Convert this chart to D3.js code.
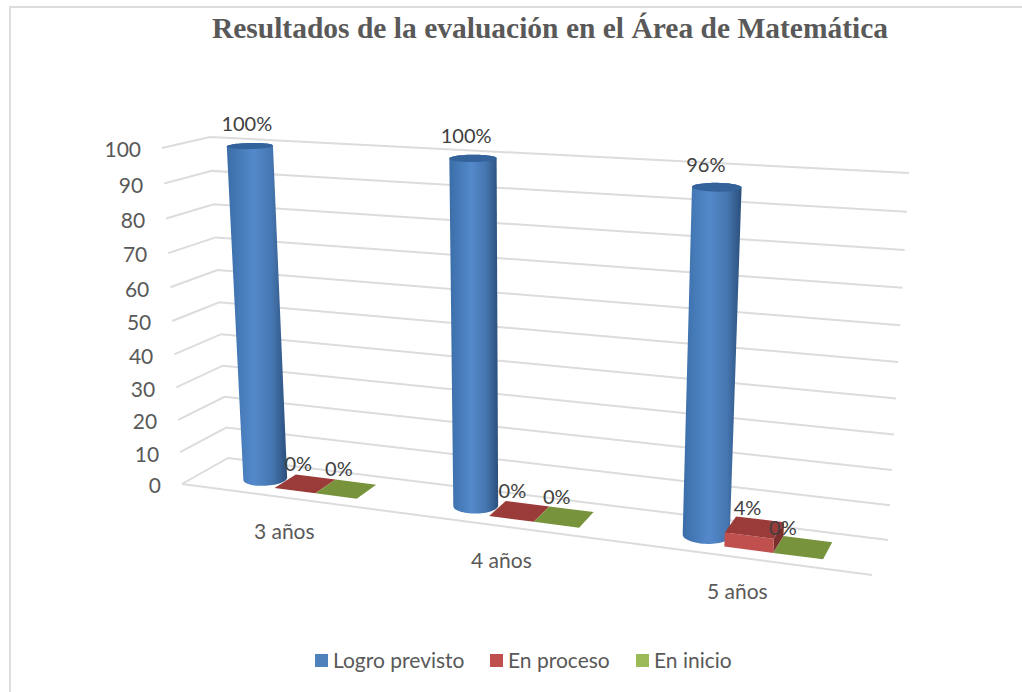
<!DOCTYPE html>
<html>
<head>
<meta charset="utf-8">
<script src="https://d3js.org/d3.v7.min.js"></script>
<style>
  html, body { margin: 0; padding: 0; background: #fff; }
  svg { display: block; }
  text { font-family: Lato, "Open Sans", sans-serif; fill: #595959; }
</style>
</head>
<body>
<div id="chart"></div>
<script>
const titleText = "Resultados de la evaluación en el Área de Matemática";
const categories = ["3 años", "4 años", "5 años"];
const seriesNames = ["Logro previsto", "En proceso", "En inicio"];
const logroPrevisto = [100, 100, 96];
const enProceso = [0, 0, 4];
const enInicio = [0, 0, 0];
const yTicks = [0, 10, 20, 30, 40, 50, 60, 70, 80, 90, 100];
const allSeries = [logroPrevisto, enProceso, enInicio];

const width = 1022, height = 692;

const svg = d3.select("#chart").append("svg")
    .attr("width", width)
    .attr("height", height);

const defs = svg.append("defs");
const grad = defs.append("linearGradient").attr("id", "cyl")
    .attr("x1", "0%").attr("x2", "100%").attr("y1", "0%").attr("y2", "0%");
grad.append("stop").attr("offset", "0%").attr("stop-color", "#3b6ea8");
grad.append("stop").attr("offset", "45%").attr("stop-color", "#5389cb");
grad.append("stop").attr("offset", "75%").attr("stop-color", "#4676b0");
grad.append("stop").attr("offset", "100%").attr("stop-color", "#2b4f7c");

// frame
svg.append("path")
    .attr("d", "M10,692V7H1022")
    .attr("fill", "none")
    .attr("stroke", "#dcdcdc")
    .attr("stroke-width", 2);

// the four corners of the 3d box, each one a function of the value
const backLeftX = d3.scaleLinear().domain([0, 100]).range([228, 210]);
const backLeftY = d3.scaleLinear().domain([0, 100]).range([458, 137]);
const backRightX = d3.scaleLinear().domain([0, 100]).range([888, 909]);
const backRightY = d3.scaleLinear().domain([0, 100]).range([540, 173]);
const frontLeftX = d3.scaleLinear().domain([0, 100]).range([182, 162]);
const frontLeftY = d3.scaleLinear().domain([0, 100]).range([484, 148]);
const frontRightX = d3.scaleLinear().domain([0, 100]).range([872, 894]);
const frontRightY = d3.scaleLinear().domain([0, 100]).range([575, 191]);

// categories and series are laid out flat, then warped for the perspective
const x0 = d3.scaleBand().domain(categories).range([0, 1])
    .paddingInner(0.41).paddingOuter(0.205);
const x1 = d3.scaleBand().domain(seriesNames).range([0, x0.bandwidth()]);
const color = d3.scaleOrdinal().domain(seriesNames).range(["#4f81bd", "#c0504d", "#9bbb59"]);
const topColor = d3.scaleOrdinal().domain(seriesNames).range(["#34629a", "#9b3b39", "#77933c"]);

const warp = t => t / (t + 1.147 * (1 - t));
// the value axis is also a bit foreshortened towards the bottom
const lift = v => 100 * v / (v + 1.062 * (100 - v));

function project(t, d, value) {
    const u = warp(t), v = lift(value);
    const bx = backLeftX(v) + (backRightX(v) - backLeftX(v)) * u,
        by = backLeftY(v) + (backRightY(v) - backLeftY(v)) * u,
        fx = frontLeftX(v) + (frontRightX(v) - frontLeftX(v)) * u,
        fy = frontLeftY(v) + (frontRightY(v) - frontLeftY(v)) * u;
    return [bx + (fx - bx) * d, by + (fy - by) * d];
}

const line = d3.line();
const closed = d3.line().curve(d3.curveLinearClosed);

// gridlines on the side and back walls
svg.append("g").selectAll("path")
    .data(yTicks)
    .join("path")
    .attr("d", d => {
        const v = lift(d);
        return line([[frontLeftX(v), frontLeftY(v)], [backLeftX(v), backLeftY(v)], [backRightX(v), backRightY(v)]]);
    })
    .attr("fill", "none")
    .attr("stroke", "#dcdcdc")
    .attr("stroke-width", 2);

// front edge of the floor
svg.append("path")
    .attr("d", line([[frontLeftX(0), frontLeftY(0)], [frontRightX(0), frontRightY(0)]]))
    .attr("fill", "none")
    .attr("stroke", "#dcdcdc")
    .attr("stroke-width", 2);

// y axis labels follow the left edge of the box
svg.append("g").selectAll("text")
    .data(yTicks)
    .join("text")
    .attr("x", d => frontLeftX(lift(d)) - 21)
    .attr("y", d => frontLeftY(lift(d)) + 2)
    .attr("dy", "0.35em")
    .attr("text-anchor", "end")
    .style("font-size", "21px")
    .text(d => d);

const angles = d3.range(0, Math.PI * 2, Math.PI / 30);

const marks = svg.append("g");
const labels = [];

categories.forEach(function (cat, i) {
    seriesNames.forEach(function (name, j) {
        const value = allSeries[j][i];
        const t0 = x0(cat) + x1(name);
        const t1 = t0 + x1.bandwidth();
        const tm = (t0 + t1) / 2;
        const g = marks.append("g");
        const anchor = project(tm, 0.5, value);

        if (j === 0) {
            // cylinder
            const ring = v => angles.map(a => project(tm + Math.cos(a) * x1.bandwidth() * 0.48, 0.5 + Math.sin(a) * 0.25, v));
            g.append("path")
                .attr("d", closed(d3.polygonHull(ring(0).concat(ring(value)))))
                .attr("fill", "url(#cyl)");
            g.append("path")
                .attr("d", closed(ring(value)))
                .attr("fill", topColor(name));
            labels.push({ x: anchor[0] - 2 - 12 * warp(tm), y: anchor[1] - 22, text: value + "%" });
        } else {
            // box, flat when the value is zero
            if (value > 0) {
                g.append("path")
                    .attr("d", closed([project(t1, 0.25, value), project(t1, 0.75, value), project(t1, 0.75, 0), project(t1, 0.25, 0)]))
                    .attr("fill", "#7d2f2d");
                g.append("path")
                    .attr("d", closed([project(t0, 0.75, value), project(t1, 0.75, value), project(t1, 0.75, 0), project(t0, 0.75, 0)]))
                    .attr("fill", color(name));
            }
            g.append("path")
                .attr("d", closed([project(t0, 0.25, value), project(t1, 0.25, value), project(t1, 0.75, value), project(t0, 0.75, value)]))
                .attr("fill", topColor(name));
            // a label next to a raised box gets pushed further left
            const dx = allSeries[j - 1][i] > 0 && j > 1 ? -20 : -7;
            labels.push({ x: anchor[0] + dx, y: anchor[1] - 20, text: value + "%" });
        }
    });
});

// data labels
svg.append("g").selectAll("text")
    .data(labels)
    .join("text")
    .attr("x", d => d.x)
    .attr("y", d => d.y)
    .attr("dy", "0.35em")
    .attr("text-anchor", "middle")
    .style("font-size", "20px")
    .style("fill", "#404040")
    .text(d => d.text);

// category labels, hanging below the floor
svg.append("g").selectAll("text")
    .data(categories)
    .join("text")
    .attr("x", d => {
        const t = x0(d) + x0.bandwidth() / 2;
        return project(t, 1, 0)[0] - 9 * warp(t) * warp(t);
    })
    .attr("y", d => project(x0(d) + x0.bandwidth() / 2, 1, 0)[1] + 34)
    .attr("dy", "0.35em")
    .attr("text-anchor", "middle")
    .style("font-size", "21px")
    .text(d => d);

// title
svg.append("text")
    .attr("x", 550)
    .attr("y", 38)
    .attr("text-anchor", "middle")
    .style("font-family", "'Liberation Serif', serif")
    .style("font-size", "29.5px")
    .style("font-weight", "bold")
    .text(titleText);

// legend
const legendX = d3.scaleOrdinal().domain(seriesNames).range([315, 490, 636]);
const legend = svg.append("g").selectAll("g")
    .data(seriesNames)
    .join("g")
    .attr("transform", d => `translate(${legendX(d)},654)`);
legend.append("rect")
    .attr("width", 13)
    .attr("height", 13)
    .attr("fill", d => color(d));
legend.append("text")
    .attr("x", 18)
    .attr("y", 6.5)
    .attr("dy", "0.35em")
    .style("font-size", "21px")
    .text(d => d);
</script>
</body>
</html>
